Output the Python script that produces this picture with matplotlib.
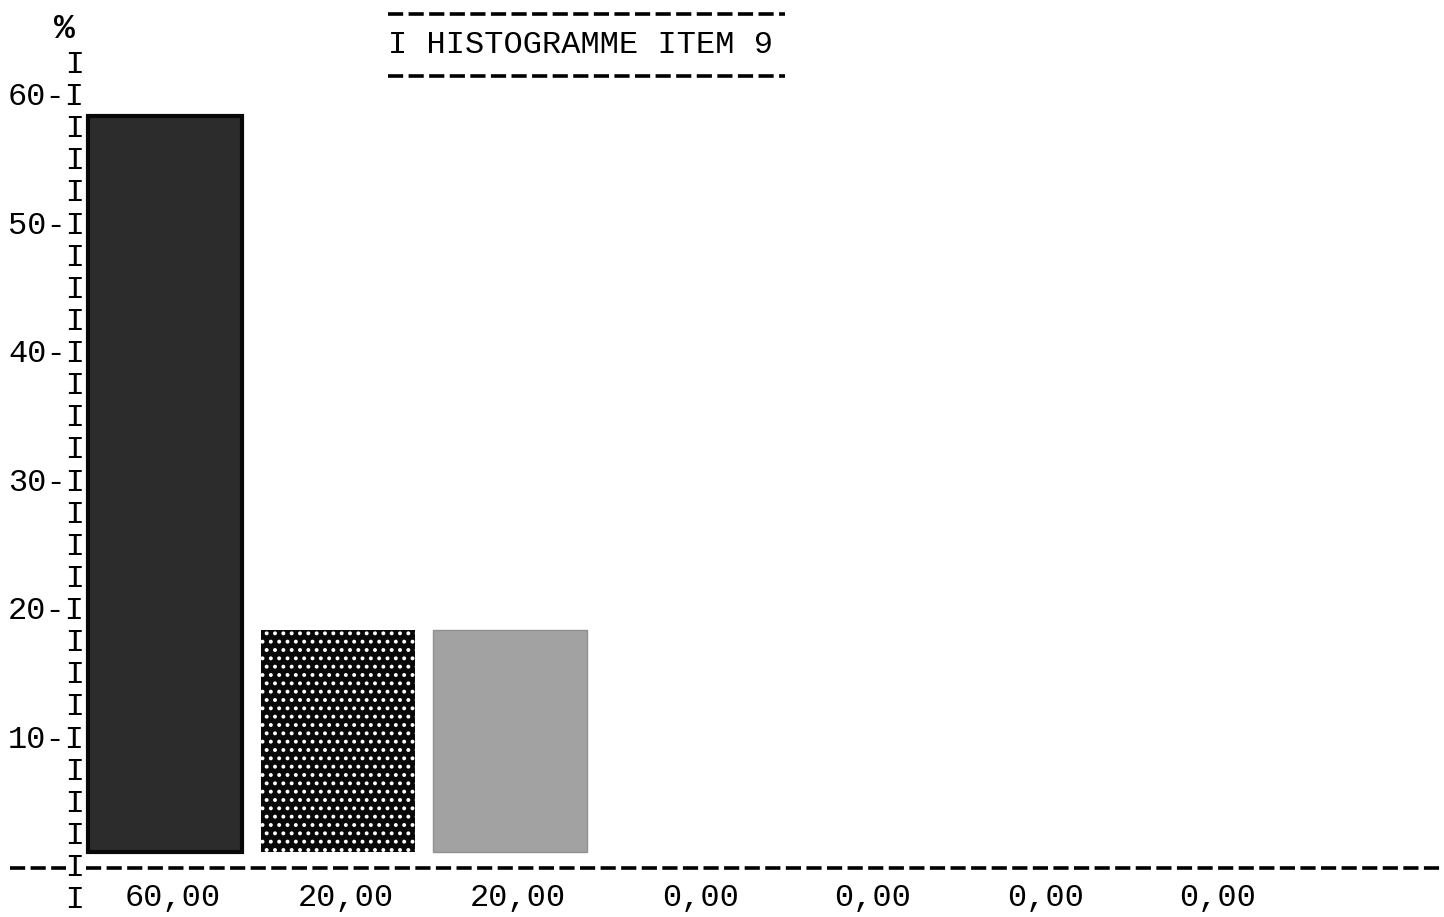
import matplotlib
matplotlib.use("Agg")
import matplotlib.pyplot as plt
import numpy as np
from matplotlib.lines import Line2D
from matplotlib.transforms import blended_transform_factory

# donnees de l'histogramme (item 9)
valeurs = [60, 20, 20, 0, 0, 0, 0]
etiquettes = ["60,00", "20,00", "20,00", "0,00", "0,00", "0,00", "0,00"]
graduations = [10, 20, 30, 40, 50, 60]
titre = "I HISTOGRAMME ITEM 9"

police = "Liberation Mono"
W, H = 1444, 917

plt.rcParams["hatch.linewidth"] = 1.6

fig = plt.figure(figsize=(W / 100, H / 100), dpi=100)
ax = fig.add_axes([0, 0, 1, 1])
ax.set_xlim(-0.957, 7.414)
ax.set_ylim(-3.81, 67.55)
ax.axis("off")

# barres (style machine a ecrire)
x = np.arange(len(valeurs))
styles = [
    dict(color="#2c2c2c", edgecolor="#080808", linewidth=3),
    dict(color="#080808", edgecolor="white", linewidth=0, hatch=".."),
    dict(color="#a2a2a2", edgecolor="#909090", linewidth=1),
]
for i, v in enumerate(valeurs):
    if v <= 0:
        continue
    st = styles[i % len(styles)]
    ax.bar(x[i], v - 1.5 - 1.25, bottom=1.25, width=0.893, **st)

# etiquettes sous l'axe
for i, lab in enumerate(etiquettes):
    ax.text(x[i] + 0.325, -2.3, lab, ha="right", va="center",
            family=police, fontsize=23, color="black")

# axe vertical en caracteres
tr = blended_transform_factory(ax.transAxes, ax.transData)
px = lambda p: p / W
for v in np.arange(-2.5, 63, 2.5):
    if abs(v) < 0.01:
        continue
    if round(v) in graduations and abs(v - round(v)) < 0.01:
        s = "%2d-I" % round(v)
    else:
        s = "   I"
    ax.text(px(8), v, s, ha="left", va="center", family=police,
            fontsize=23, color="black", transform=tr)
ax.text(px(64), 65.3, "%", ha="center", va="center", family=police,
        fontsize=25, fontweight="bold", transform=tr)

# ligne de base pointillee
ax.text(px(8), 0, "   I", ha="left", va="center", family=police,
        fontsize=23, transform=tr)
ax.add_line(Line2D([px(10), px(66)], [0, 0], transform=tr, color="black",
                   lw=2.6, linestyle=(0, (4.2, 1.5))))
ax.add_line(Line2D([px(86), px(1444)], [0, 0], transform=tr, color="black",
                   lw=2.6, linestyle=(0, (4.2, 1.5))))

# titre encadre
fig.text(388 / W, 1 - 45 / H, titre, ha="left", va="center", family=police,
         fontsize=23, color="black")
for yp in (14, 76):
    fig.add_artist(Line2D([388 / W, 785 / W], [1 - yp / H, 1 - yp / H],
                          transform=fig.transFigure, color="black", lw=2.6,
                          linestyle=(0, (4.2, 1.5))))

fig.savefig("out.png", dpi=100, facecolor="white")
